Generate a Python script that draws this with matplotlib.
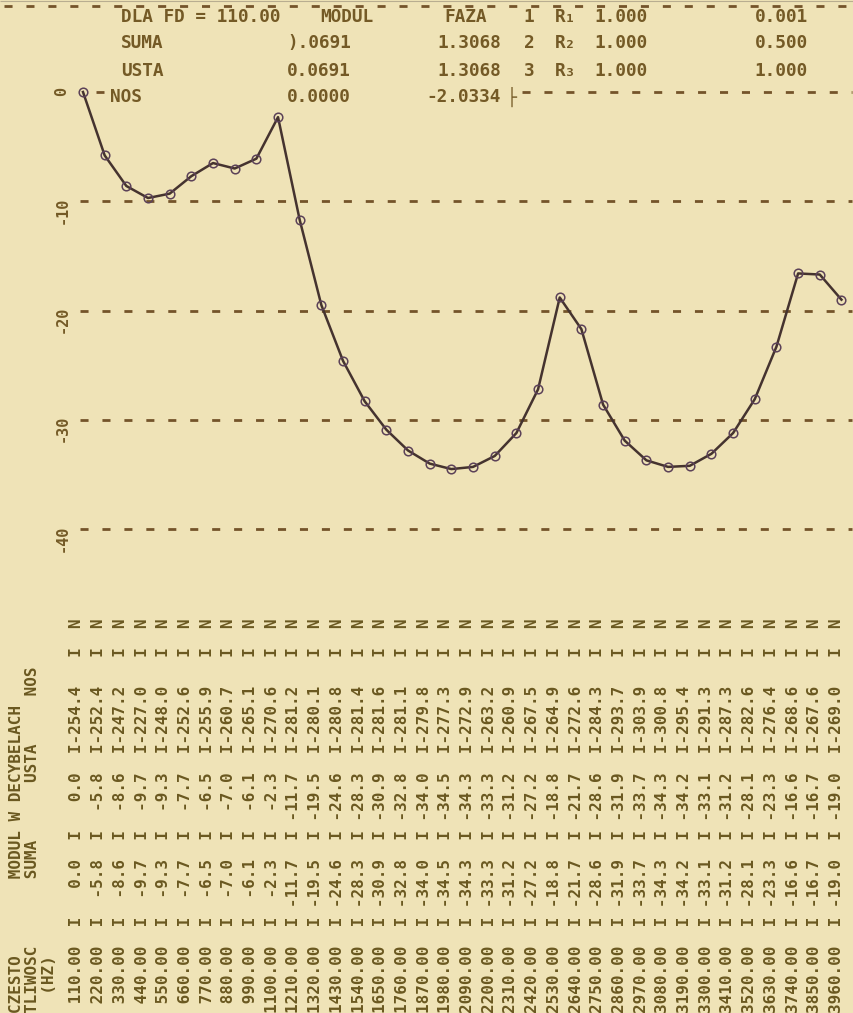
import matplotlib.pyplot as plt

# frequencies (Hz) and modulus in dB
freq = [110, 220, 330, 440, 550, 660, 770, 880, 990, 1100, 1210, 1320,
        1430, 1540, 1650, 1760, 1870, 1980, 2090, 2200, 2310, 2420, 2530, 2640,
        2750, 2860, 2970, 3080, 3190, 3300, 3410, 3520, 3630, 3740, 3850, 3960]
suma = [0.0, -5.8, -8.6, -9.7, -9.3, -7.7, -6.5, -7.0, -6.1, -2.3, -11.7, -19.5,
        -24.6, -28.3, -30.9, -32.8, -34.0, -34.5, -34.3, -33.3, -31.2, -27.2, -18.8, -21.7,
        -28.6, -31.9, -33.7, -34.3, -34.2, -33.1, -31.2, -28.1, -23.3, -16.6, -16.7, -19.0]
usta = [0.0, -5.8, -8.6, -9.7, -9.3, -7.7, -6.5, -7.0, -6.1, -2.3, -11.7, -19.5,
        -24.6, -28.3, -30.9, -32.8, -34.0, -34.5, -34.3, -33.3, -31.2, -27.2, -18.8, -21.7,
        -28.6, -31.9, -33.7, -34.3, -34.2, -33.1, -31.2, -28.1, -23.3, -16.6, -16.7, -19.0]
nos = [-254.4, -252.4, -247.2, -227.0, -248.0, -252.6, -255.9, -260.7, -265.1, -270.6, -281.2, -280.1,
       -280.8, -281.4, -281.6, -281.1, -279.8, -277.3, -272.9, -263.2, -260.9, -267.5, -264.9, -272.6,
       -284.3, -293.7, -303.9, -300.8, -295.4, -291.3, -287.3, -282.6, -276.4, -268.6, -267.6, -269.0]
db_ticks = [0, -10, -20, -30, -40]

# header block at the top
head_rows = [
    ["DLA FD = 110.00", "MODUL", "FAZA", "1", "R\u2081", "1.000", "0.001"],
    ["SUMA", ").0691", "1.3068", "2", "R\u2082", "1.000", "0.500"],
    ["USTA", "0.0691", "1.3068", "3", "R\u2083", "1.000", "1.000"],
    ["NOS", "0.0000", "-2.0334", "", "", "", ""],
]

W, H = 854, 1013
BG = '#efe3b7'
TXT = '#745a26'
TAB = '#6a5820'
DASH = '#74542a'
CURVE = '#45332f'
MARK = '#5c4258'

# pixel <-> data mapping of the printout
HZ_PX = 110 / 21.67
DB_PX = 1 / 10.93
X0, Y0 = 83, 92


def X(px):
    return 110 + (px - X0) * HZ_PX


def Y(py):
    return (Y0 - py) * DB_PX


def P(px, py):
    return px / W, 1 - py / H


fig = plt.figure(figsize=(W / 100, H / 100), dpi=100)
fig.patch.set_facecolor(BG)
ax = fig.add_axes([0, 0, 1, 1])
ax.set_facecolor(BG)
ax.set_xlim(X(0), X(W))
ax.set_ylim(Y(H), Y(0))
ax.axis('off')

mono = 'DejaVu Sans Mono'
dash_style = (0, (2.9, 5.0))

# top border of the paper
ax.hlines(Y(1.5), X(0), X(W), colors='#b8ad90', lw=0.8)
ax.hlines(Y(6), X(4), X(W), colors=DASH, lw=2.0, linestyles=dash_style)

# dB grid lines
ax.hlines(db_ticks[1:], X(80), X(852), colors=DASH, lw=2.0, linestyles=dash_style)
ax.hlines(0, X(522), X(852), colors=DASH, lw=2.0, linestyles=dash_style)
ax.hlines(0, X(96), X(104), colors=DASH, lw=2.0)
for v in db_ticks:
    ax.text(X(62), v + 0.46, str(v), rotation=90, ha='center', va='top',
            family=mono, fontsize=11, fontweight='bold', color=TXT)

# curve
ax.plot(freq, usta, color=CURVE, lw=1.8, zorder=3)
ax.plot(freq, usta, 'o', ms=6.2, mfc='none', mec=MARK, mew=1.1, zorder=4)

# header text
col_x = [(121, 'left'), (320, 'left'), (487, 'right'), (529, 'center'),
         (566, 'center'), (648, 'right'), (808, 'right')]
row_y = [17, 43, 71, 97]
for r, row in enumerate(head_rows):
    for c, s in enumerate(row):
        if not s:
            continue
        x, ha = col_x[c]
        if c == 0 and r == 3:
            x = 110
        if c == 1 and r > 0:
            x, ha = 351, 'right'
        if c == 2 and r > 0:
            x = 501
        fig.text(*P(x, row_y[r]), s, ha=ha, va='center', family=mono,
                 fontsize=12.8, fontweight='bold', color=TXT)
fig.text(*P(512, 97), "\u251c", ha='center', va='center', family=mono,
         fontsize=12, color=TXT)

# rotated table at the bottom
tab_kw = dict(rotation=90, ha='center', family=mono, fontsize=11.5,
              fontweight='bold', color=TAB)
fig.text(*P(17, 1013), "CZESTO" + " " * 8 + "MODUL W DECYBELACH", va='bottom', **tab_kw)
fig.text(*P(33, 1013), "TLIWOSC" + " " * 7 + "SUMA" + " " * 6 + "USTA" + " " * 5 + "NOS",
         va='bottom', **tab_kw)
fig.text(*P(50, 1013), "  (HZ)", va='bottom', **tab_kw)
for i in range(len(freq)):
    line = f"{freq[i]:7.2f}  I{suma[i]:6.1f}  I{usta[i]:6.1f}  I{nos[i]:6.1f}   I  N"
    fig.text(*P(77 + i * 21.7, 1013), line, va='bottom', **tab_kw)

fig.savefig('out.png', dpi=100, facecolor=BG)
